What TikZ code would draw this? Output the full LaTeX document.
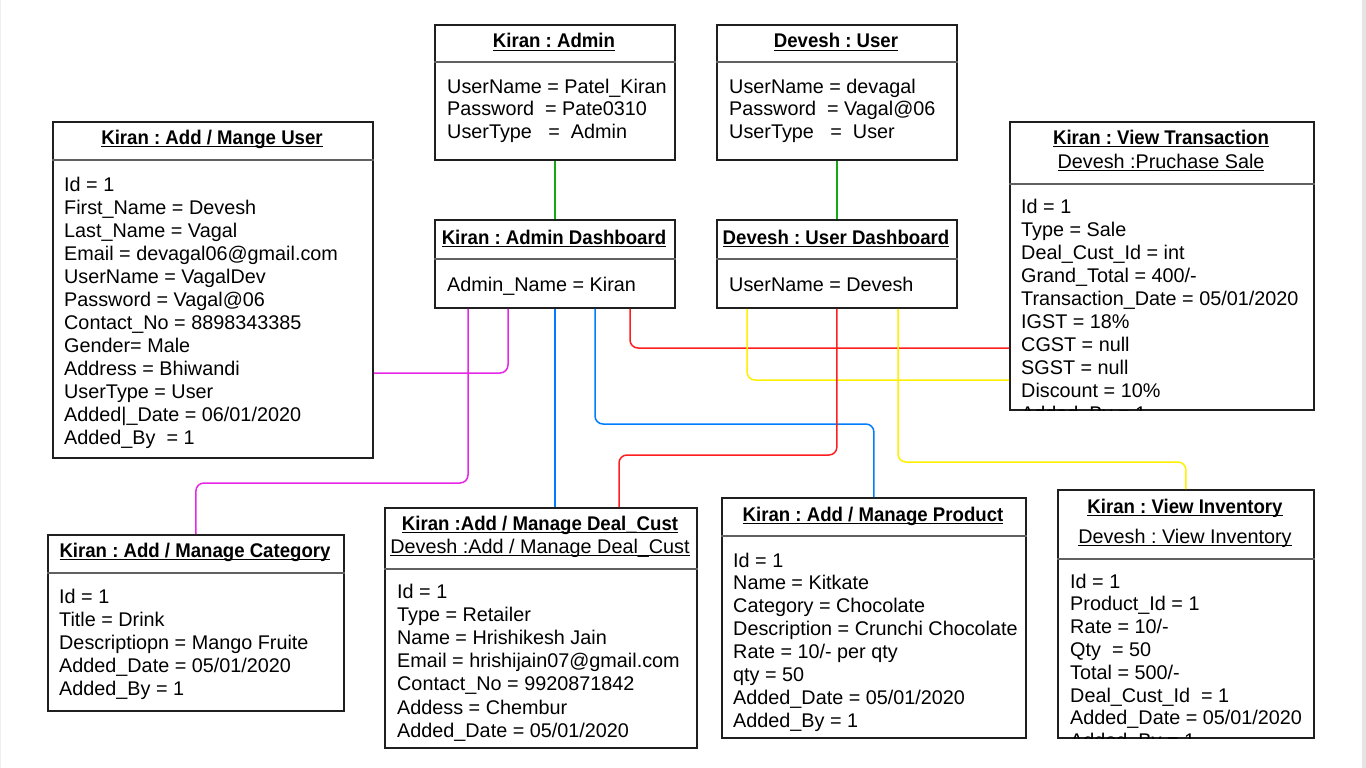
\documentclass[tikz,border=0pt]{standalone}
\usepackage{fontspec}
\setmainfont{Liberation Sans}
\newfontfamily\titlefont{Liberation Sans}[FakeStretch=0.94]
\usepackage{tikz}
\usepackage{xcolor}
\frenchspacing
\definecolor{lnkgreen}{RGB}{20,170,20}
\definecolor{lnkpink}{RGB}{230,40,230}
\definecolor{lnkblue}{RGB}{0,125,255}
\definecolor{lnkred}{RGB}{255,30,30}
\definecolor{lnkyellow}{RGB}{255,240,0}
\newcommand\objfont{\fontsize{19.8}{23}\selectfont\frenchspacing}
\newcommand\ulin[1]{\setbox0\hbox{#1}\rlap{\vrule height -1.6pt depth 3.1pt width \wd0}\box0}
\tikzset{objbox/.style={draw=black!88, line width=1.8pt, anchor=north west, inner sep=0pt},
 divider/.style={draw=black!62, line width=2.6pt},
 objtitle/.style={anchor=base, inner sep=0pt, font=\objfont\titlefont\bfseries},
 objsub/.style={anchor=base, inner sep=0pt, font=\objfont},
 objline/.style={anchor=base west, inner sep=0pt, font=\objfont},
 link/.style={line width=1.5pt, rounded corners=8pt},
 }

\begin{document}
\begin{tikzpicture}[x=1pt, y=-1pt]
        \useasboundingbox (0,0) rectangle (1366,768);
        \fill[white] (0,0) rectangle (1366,768);
        \fill[black!10] (1362,0) rectangle (1366,768);
        \draw[black!6] (0.5,0) -- (0.5,768);

        \node[objbox, minimum width=240pt, minimum height=135pt] (admin) at (434,24) {};
        \draw[divider] (admin.west |- 0,62) -- (admin.east |- 0,62);
        \node[objtitle] (admin-t) at (554,48) {\ulin{Kiran : Admin}};
        \foreach \txt[count=\i] in {UserName = Patel\_Kiran, Password~~= Pate0310, UserType~~~=~~Admin} {
            \node[objline] (admin-\i) at (447, {93+22.5*(\i-1)}) {\txt};
        }

        \node[objbox, minimum width=240pt, minimum height=135pt] (user) at (716,24) {};
        \draw[divider] (user.west |- 0,62) -- (user.east |- 0,62);
        \node[objtitle] (user-t) at (836,48) {\ulin{Devesh : User}};
        \foreach \txt[count=\i] in {UserName = devagal, Password~~= Vagal@06, UserType~~~=~~User} {
            \node[objline] (user-\i) at (729, {93+22.5*(\i-1)}) {\txt};
        }

        \node[objbox, minimum width=240pt, minimum height=88pt] (admdash) at (434,219) {};
        \draw[divider] (admdash.west |- 0,259) -- (admdash.east |- 0,259);
        \node[objtitle] (admdash-t) at (554,244) {\ulin{Kiran : Admin Dashboard}};
        \node[objline] (admdash-1) at (447,291) {Admin\_Name = Kiran};

        \node[objbox, minimum width=240pt, minimum height=88pt] (usrdash) at (716,219) {};
        \draw[divider] (usrdash.west |- 0,259) -- (usrdash.east |- 0,259);
        \node[objtitle] (usrdash-t) at (836,244) {\ulin{Devesh : User Dashboard}};
        \node[objline] (usrdash-1) at (729,291) {UserName = Devesh};

        \node[objbox, minimum width=320pt, minimum height=336pt] (adduser) at (52,121) {};
        \draw[divider] (adduser.west |- 0,160) -- (adduser.east |- 0,160);
        \node[objtitle] (adduser-t) at (212,144) {\ulin{Kiran : Add / Mange User}};
        \foreach \txt[count=\i] in {Id = 1, First\_Name = Devesh, Last\_Name = Vagal, Email = devagal06@gmail.com,
            UserName = VagalDev, Password = Vagal@06, Contact\_No = 8898343385, Gender= Male, Address = Bhiwandi,
            UserType = User, Added|\_Date = 06/01/2020, Added\_By~~= 1} {
            \node[objline] (adduser-\i) at (64, {191+23*(\i-1)}) {\txt};
        }

        \node[objbox, minimum width=304pt, minimum height=288pt] (trans) at (1009,121) {};
        \draw[divider] (trans.west |- 0,184) -- (trans.east |- 0,184);
        \node[objtitle] (trans-t) at (1161,144) {\ulin{Kiran : View Transaction}};
        \node[objsub] (trans-s) at (1161,168) {\ulin{Devesh :Pruchase Sale}};
        \begin{scope}
            \clip (trans.north west) rectangle (trans.south east);
            \foreach \txt[count=\i] in {Id = 1, Type = Sale, Deal\_Cust\_Id = int, Grand\_Total = 400/-,
                Transaction\_Date = 05/01/2020, IGST = 18\%, CGST = null, SGST = null, Discount = 10\%, Added\_By = 1} {
                \node[objline] (trans-\i) at (1021, {213+23*(\i-1)}) {\txt};
            }
        \end{scope}

        \node[objbox, minimum width=296pt, minimum height=176pt] (addcat) at (47,534) {};
        \draw[divider] (addcat.west |- 0,573) -- (addcat.east |- 0,573);
        \node[objtitle] (addcat-t) at (195,557) {\ulin{Kiran : Add / Manage Category}};
        \foreach \txt[count=\i] in {Id = 1, Title = Drink, Descriptiopn = Mango Fruite, Added\_Date = 05/01/2020, Added\_By = 1} {
            \node[objline] (addcat-\i) at (59, {603+23*(\i-1)}) {\txt};
        }

        \node[objbox, minimum width=312pt, minimum height=240pt] (dealcust) at (384,507) {};
        \draw[divider] (dealcust.west |- 0,569) -- (dealcust.east |- 0,569);
        \node[objtitle] (dealcust-t) at (540,530) {\ulin{Kiran :Add / Manage Deal\_Cust}};
        \node[objsub] (dealcust-s) at (540,553) {\ulin{Devesh :Add / Manage Deal\_Cust}};
        \foreach \txt[count=\i] in {Id = 1, Type = Retailer, Name = Hrishikesh Jain, Email = hrishijain07@gmail.com,
            Contact\_No = 9920871842, Addess = Chembur, Added\_Date = 05/01/2020} {
            \node[objline] (dealcust-\i) at (397, {598+23.2*(\i-1)}) {\txt};
        }

        \node[objbox, minimum width=304pt, minimum height=240pt] (product) at (721,497) {};
        \draw[divider] (product.west |- 0,536) -- (product.east |- 0,536);
        \node[objtitle] (product-t) at (873,521) {\ulin{Kiran : Add / Manage Product}};
        \foreach \txt[count=\i] in {Id = 1, Name = Kitkate, Category = Chocolate, Description = Crunchi Chocolate,
            Rate = 10/- per qty, qty = 50, Added\_Date = 05/01/2020, Added\_By = 1} {
            \node[objline] (product-\i) at (733, {567+22.9*(\i-1)}) {\txt};
        }

        \node[objbox, minimum width=256pt, minimum height=248pt] (inv) at (1057,489) {};
        \draw[divider] (inv.west |- 0,559) -- (inv.east |- 0,559);
        \node[objtitle] (inv-t) at (1185,513) {\ulin{Kiran : View Inventory}};
        \node[objsub] (inv-s) at (1185,543) {\ulin{Devesh : View Inventory}};
        \begin{scope}
            \clip (inv.north west) rectangle (inv.south east);
            \foreach \txt[count=\i] in {Id = 1, Product\_Id = 1, Rate = 10/-, Qty~~= 50, Total = 500/-,
                Deal\_Cust\_Id~~= 1, Added\_Date = 05/01/2020, Added\_By = 1} {
                \node[objline] (inv-\i) at (1070, {588+22.8*(\i-1)}) {\txt};
            }
        \end{scope}

        \draw[link, lnkgreen] (admin.south) -- (admdash.north);
        \draw[link, lnkgreen] (user.south) -- (usrdash.north);
        \draw[link, lnkpink] (508,0 |- admdash.south) |- (adduser.east |- 0,373);
        \draw[link, lnkpink] (468,0 |- admdash.south) -- (468,483) -| (addcat.north);
        \draw[link, lnkblue] (admdash.south) -- (admdash.south |- dealcust.north);
        \draw[link, lnkblue] (595,0 |- admdash.south) |- (product.north |- 0,424) -- (product.north);
        \draw[link, lnkred] (630,0 |- admdash.south) |- (trans.west |- 0,348);
        \draw[link, lnkyellow] (747,0 |- usrdash.south) |- (trans.west |- 0,380);
        \draw[link, lnkred] (usrdash.south) -- (usrdash.south |- 0,455) -| (619,0 |- dealcust.north);
        \draw[link, lnkyellow] (898,0 |- usrdash.south) |- (inv.north |- 0,462) -- (inv.north);
    \end{tikzpicture}
\end{document}
